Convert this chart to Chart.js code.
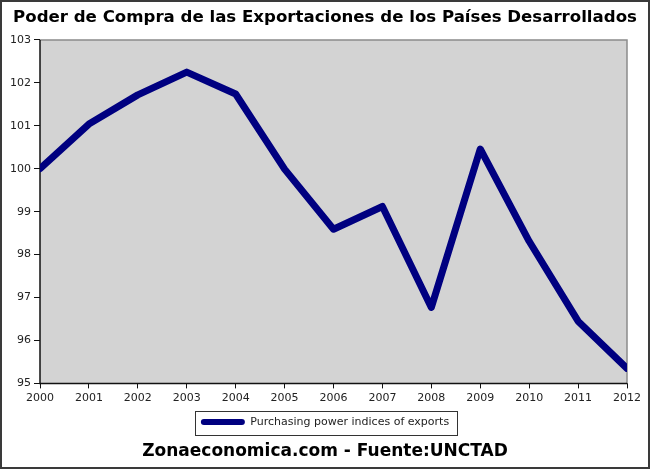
<!DOCTYPE html>
<html>
<head>
<meta charset="utf-8">
<script src="https://cdn.jsdelivr.net/npm/chart.js@4"></script>
<style>
    html, body { margin: 0; padding: 0; background: #fff; }
    #wrap { width: 650px; height: 469px; position: relative; }
</style>
</head>
<body>
<div id="wrap"><canvas id="chart" width="650" height="469"></canvas></div>
<script>
// Poder de compra de las exportaciones (índice), países desarrollados.

const YEARS = ['2000', '2001', '2002', '2003', '2004', '2005', '2006',
    '2007', '2008', '2009', '2010', '2011', '2012'];
const PURCHASING_POWER = [100.0, 101.04, 101.72, 102.25, 101.74, 99.99, 98.59,
    99.12, 96.77, 100.46, 98.31, 96.45, 95.35];
const Y_TICKS = [95, 96, 97, 98, 99, 100, 101, 102, 103];

const TITLE = 'Poder de Compra de las Exportaciones de los Países Desarrollados';
const FOOTER = 'Zonaeconomica.com - Fuente:UNCTAD';
const SERIES_LABEL = 'Purchasing power indices of exports';

const FONT = 'DejaVu Sans';

// gray plot background + frame, legend box, outer border
const decor = {
    id: 'decor',
    afterLayout(chart) {
        // title, footer and legend centred on the whole canvas, not on the plot
        chart.boxes.forEach((b) => {
            if (b.axis) return;
            if (b.position === 'top' || b.position === 'bottom') {
                b.left = 0;
                b.right = chart.width;
                b.width = chart.width;
            }
        });
    },
    beforeDatasetsDraw(chart) {
        const { ctx, chartArea: a } = chart;
        ctx.save();
        ctx.fillStyle = '#d3d3d3';
        ctx.fillRect(a.left, a.top, a.right - a.left, a.bottom - a.top);
        ctx.strokeStyle = '#8c8c8c';
        ctx.lineWidth = 1.5;
        ctx.beginPath();
        ctx.moveTo(a.left, a.top);
        ctx.lineTo(a.right, a.top);
        ctx.lineTo(a.right, a.bottom);
        ctx.stroke();
        ctx.strokeStyle = '#111';
        ctx.beginPath();
        ctx.moveTo(a.left, a.top);
        ctx.lineTo(a.left, a.bottom);
        ctx.lineTo(a.right, a.bottom);
        ctx.stroke();
        ctx.restore();
    },
    afterDraw(chart) {
        const { ctx } = chart;
        ctx.save();
        const hb = chart.legend && chart.legend.legendHitBoxes && chart.legend.legendHitBoxes[0];
        if (hb) {
            ctx.strokeStyle = '#333';
            ctx.lineWidth = 1;
            ctx.strokeRect(Math.round(hb.left - 6) + 0.5, Math.round(hb.top - 6) + 0.5,
                Math.round(hb.width + 14), Math.round(hb.height + 13));
        }
        ctx.strokeStyle = '#3a3a3a';
        ctx.lineWidth = 2;
        ctx.strokeRect(1, 1, chart.width - 2, chart.height - 2);
        ctx.restore();
    },
};

new Chart(document.getElementById('chart'), {
    type: 'line',
    data: {
        labels: YEARS,
        datasets: [
            {
                label: SERIES_LABEL,
                data: PURCHASING_POWER,
                borderColor: '#000080',
                backgroundColor: '#000080',
                borderWidth: 7,
                borderCapStyle: 'round',
                borderJoinStyle: 'round',
                tension: 0,
                pointRadius: 0,
                fill: false,
                clip: 0,
            },
        ],
    },
    options: {
        responsive: false,
        animation: false,
        layout: { padding: { left: 8, right: 23, top: 4, bottom: 3 } },
        plugins: {
            title: {
                display: true,
                text: TITLE,
                color: '#000',
                font: { family: FONT, size: 16.6, weight: 'bold' },
                padding: { top: 4, bottom: 12 },
            },
            subtitle: {
                display: true,
                position: 'bottom',
                text: FOOTER,
                color: '#000',
                font: { family: FONT, size: 17, weight: 'bold' },
                padding: { top: 4, bottom: 4 },
            },
            legend: {
                position: 'bottom',
                labels: {
                    color: '#222',
                    font: { family: FONT, size: 11 },
                    boxWidth: 44,
                    boxHeight: 6,
                    useBorderRadius: true,
                    borderRadius: 3,
                    padding: 9,
                    generateLabels: (chart) =>
                        Chart.defaults.plugins.legend.labels.generateLabels(chart).map((l) => ({
                            ...l,
                            lineWidth: 0,
                        })),
                },
            },
            tooltip: { enabled: false },
        },
        scales: {
            x: {
                offset: false,
                grid: {
                    display: true,
                    drawOnChartArea: false,
                    drawTicks: true,
                    tickLength: 5,
                    color: '#111',
                },
                border: { display: false },
                ticks: {
                    color: '#222',
                    font: { family: FONT, size: 11 },
                    maxRotation: 0,
                    autoSkip: false,
                    padding: 3,
                },
            },
            y: {
                min: 95,
                max: 103,
                afterBuildTicks: (s) => { s.ticks = Y_TICKS.map((v) => ({ value: v })); },
                grid: {
                    display: true,
                    drawOnChartArea: false,
                    drawTicks: true,
                    tickLength: 6,
                    color: '#111',
                },
                border: { display: false },
                ticks: {
                    color: '#222',
                    font: { family: FONT, size: 11 },
                    padding: 3,
                },
                afterFit: (s) => { s.width = 32; },
            },
        },
    },
    plugins: [decor],
});
</script>
</body>
</html>
